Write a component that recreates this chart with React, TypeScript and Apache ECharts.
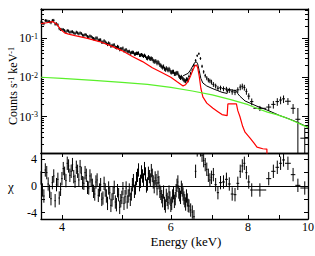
import React, { useEffect, useRef } from "react";
import * as echarts from "echarts";

// ---------- data ----------
const energy = [
  3.70, 3.74, 3.78, 3.82, 3.86, 3.90, 3.94, 3.98, 4.02, 4.06, 4.10, 4.14, 4.18, 4.22, 4.26, 4.30, 4.34, 4.38, 4.42, 4.46,
  4.50, 4.54, 4.58, 4.62, 4.66, 4.70, 4.74, 4.78, 4.82, 4.86, 4.90, 4.94, 4.98, 5.02, 5.06, 5.10, 5.14, 5.18, 5.22, 5.26,
  5.30, 5.34, 5.38, 5.42, 5.46, 5.50, 5.54, 5.58, 5.62, 5.66, 5.70, 5.74, 5.78, 5.82, 5.86, 5.90, 5.94, 5.98, 6.02, 6.06,
  6.10, 6.14, 6.18, 6.22, 6.26, 6.30, 6.34, 6.38,
  6.42, 6.46, 6.50, 6.54, 6.58, 6.62, 6.66, 6.70, 6.74, 6.78, 6.82, 6.86, 6.90, 6.94, 6.98,
  7.03, 7.09, 7.15, 7.22, 7.30, 7.38, 7.46, 7.54, 7.62, 7.70, 7.77, 7.83, 7.89, 7.95, 8.02, 8.11, 8.36, 8.64, 8.79, 8.92,
  9.03, 9.13, 9.28, 9.46, 9.63, 9.88,
];
const halfWidth = [
  0.01, 0.01, 0.01, 0.01, 0.01, 0.01, 0.01, 0.01, 0.01, 0.01, 0.01, 0.01, 0.01, 0.01, 0.01, 0.01, 0.01, 0.01, 0.01, 0.01,
  0.01, 0.01, 0.01, 0.01, 0.01, 0.01, 0.01, 0.01, 0.01, 0.01, 0.01, 0.01, 0.01, 0.01, 0.01, 0.01, 0.01, 0.01, 0.01, 0.01,
  0.01, 0.01, 0.01, 0.01, 0.01, 0.01, 0.01, 0.01, 0.01, 0.01, 0.01, 0.01, 0.01, 0.01, 0.01, 0.01, 0.01, 0.01, 0.01, 0.01,
  0.01, 0.01, 0.01, 0.01, 0.01, 0.01, 0.01, 0.01,
  0.02, 0.02, 0.02, 0.02, 0.02, 0.02, 0.02, 0.02, 0.02, 0.02, 0.02, 0.02, 0.02, 0.02, 0.02,
  0.03, 0.03, 0.03, 0.04, 0.04, 0.04, 0.04, 0.04, 0.04, 0.04, 0.03, 0.03, 0.03, 0.03, 0.04, 0.05, 0.20, 0.08, 0.07, 0.06,
  0.05, 0.05, 0.10, 0.08, 0.09, 0.16,
];
// counts s^-1 keV^-1
const counts = [
  0.255, 0.232, 0.275, 0.262, 0.281, 0.228, 0.217, 0.166, 0.164, 0.143, 0.151, 0.144, 0.136, 0.141, 0.128, 0.130, 0.117, 0.119, 0.106, 0.109,
  0.0966, 0.100, 0.0878, 0.0898, 0.0786, 0.0791, 0.0691, 0.0709, 0.0645, 0.0670, 0.0570, 0.0583, 0.0535, 0.0553, 0.0490, 0.0458, 0.0458, 0.0428, 0.0430, 0.0394,
  0.0407, 0.0366, 0.0378, 0.0345, 0.0342, 0.0306, 0.0307, 0.0303, 0.0265, 0.0260, 0.0229, 0.0230, 0.0200, 0.0178, 0.0166, 0.0171, 0.0152, 0.0151, 0.0134, 0.0139,
  0.0123, 0.0130, 0.0111, 0.0097, 0.0096, 0.0085, 0.0080, 0.0088,
  0.0105, 0.0126, 0.0151, 0.0200, 0.0269, 0.0355, 0.0398, 0.0302, 0.0191, 0.0138, 0.0110, 0.00955, 0.00851, 0.00813, 0.00759,
  0.00661, 0.00603, 0.00525, 0.00537, 0.00513, 0.00501, 0.00468, 0.00427, 0.00417, 0.00479, 0.00562, 0.00589, 0.00550, 0.00437, 0.00331, 0.00240, 0.00162, 0.00174, 0.00204, 0.00240,
  0.00263, 0.00282, 0.00245, 0.00162, 0.00085, 0.00028,
];
// relative 1-sigma error of each count rate
const relErr = [
  0.09, 0.09, 0.09, 0.09, 0.09, 0.09, 0.09, 0.09, 0.09, 0.09, 0.09, 0.09, 0.09, 0.09, 0.09, 0.09, 0.09, 0.09, 0.09, 0.09,
  0.10, 0.10, 0.10, 0.10, 0.10, 0.10, 0.10, 0.10, 0.10, 0.10, 0.10, 0.10, 0.10, 0.10, 0.10, 0.10, 0.10, 0.10, 0.10, 0.10,
  0.10, 0.10, 0.10, 0.10, 0.10, 0.12, 0.12, 0.12, 0.12, 0.12, 0.12, 0.12, 0.12, 0.12, 0.12, 0.12, 0.12, 0.12, 0.12, 0.12,
  0.12, 0.12, 0.12, 0.12, 0.12, 0.12, 0.12, 0.12,
  0.11, 0.10, 0.10, 0.09, 0.08, 0.07, 0.07, 0.08, 0.09, 0.10, 0.11, 0.12, 0.13, 0.13, 0.14,
  0.14, 0.14, 0.15, 0.14, 0.14, 0.14, 0.15, 0.16, 0.16, 0.16, 0.17, 0.17, 0.17, 0.18, 0.18, 0.20, 0.15, 0.20, 0.22, 0.22,
  0.22, 0.22, 0.20, 0.28, 0.94, 0.86,
];
// residuals (data - model) / error
const chi = [
  1.2, -1.5, 2.0, -0.8, 0.5, -2.2, 1.0, -0.5, 2.6, 0.8, 3.0, 2.2, 1.4, 2.8, 0.9, 1.9, 0.4, 1.6, -0.3, 0.9,
  -0.8, 0.6, -1.4, 0.2, -1.8, -0.6, -2.6, -1.0, -2.1, -0.2, -2.8, -1.3, -2.2, -0.4, -1.6, -2.4, -0.6, -1.2, 0.8, -0.3,
  1.6, 0.2, 2.1, 0.9, 1.8, 0.3, 1.4, 2.3, 0.6, 1.2, -0.4, 0.5, -1.1, -2.2, -2.6, -1.4, -2.5, -1.8, -2.6, -1.0,
  -1.9, 0.1, -0.9, -1.7, -0.6, -1.8, -2.7, -2.1,
  -3.0, -3.6, -3.9, -4.6, 2.2, 5.4, 6.2, 5.4, 4.6, 3.8, 3.2, 2.5, 1.6, 0.9, 1.3,
  1.7, 0.2, -1.0, 0.5, 0.6, 1.0, 0.3, -1.2, -1.3, 0.4, 2.2, 3.0, 3.4, 2.0, 0.6, -0.6, -0.6, 1.1, 2.2, 2.8,
  3.4, 3.9, 3.4, 1.7, 0.1, -0.3,
];

// interleaved fine bins of the low-energy band (each 0.02 keV wide)
const fineEnergy = [
  3.72, 3.76, 3.80, 3.84, 3.88, 3.92, 3.96, 4.00, 4.04, 4.08, 4.12, 4.16, 4.20, 4.24, 4.28, 4.32, 4.36, 4.40, 4.44, 4.48,
  4.52, 4.56, 4.60, 4.64, 4.68, 4.72, 4.76, 4.80, 4.84, 4.88, 4.92, 4.96, 5.00, 5.04, 5.08, 5.12, 5.16, 5.20, 5.24, 5.28,
  5.32, 5.36, 5.40, 5.44, 5.48, 5.52, 5.56, 5.60, 5.64, 5.68, 5.72, 5.76, 5.80, 5.84, 5.88, 5.92, 5.96, 6.00, 6.04, 6.08,
  6.12, 6.16, 6.20, 6.24, 6.28, 6.32, 6.36, 6.40,
];
const fineHalfWidth = 0.01;
const fineCounts = [
  0.241, 0.280, 0.266, 0.247, 0.282, 0.231, 0.174, 0.166, 0.155, 0.155, 0.140, 0.145, 0.130, 0.135, 0.135, 0.119, 0.123, 0.109, 0.113, 0.102,
  0.0932, 0.0996, 0.0886, 0.0788, 0.0848, 0.0737, 0.0748, 0.0624, 0.0655, 0.0585, 0.0610, 0.0510, 0.0528, 0.0475, 0.0506, 0.0449, 0.0413, 0.0435, 0.0391, 0.0410,
  0.0415, 0.0367, 0.0363, 0.0364, 0.0309, 0.0329, 0.0297, 0.0292, 0.0250, 0.0252, 0.0247, 0.0208, 0.0189, 0.0189, 0.0157, 0.0160, 0.0165, 0.0136, 0.0139, 0.0123,
  0.0127, 0.0127, 0.0103, 0.0103, 0.00907, 0.00829, 0.00889, 0.00843,
];
const fineRelErr = [
  0.09, 0.09, 0.09, 0.09, 0.09, 0.09, 0.09, 0.09, 0.09, 0.09, 0.09, 0.09, 0.09, 0.09, 0.09, 0.09, 0.09, 0.09, 0.09, 0.09,
  0.10, 0.10, 0.10, 0.10, 0.10, 0.10, 0.10, 0.10, 0.10, 0.10, 0.10, 0.10, 0.10, 0.10, 0.10, 0.10, 0.10, 0.10, 0.10, 0.10,
  0.10, 0.10, 0.10, 0.10, 0.10, 0.12, 0.12, 0.12, 0.12, 0.12, 0.12, 0.12, 0.12, 0.12, 0.12, 0.12, 0.12, 0.12, 0.12, 0.12,
  0.12, 0.12, 0.12, 0.12, 0.12, 0.12, 0.12, 0.12,
];
const fineChi = [
  -0.6, 2.4, 0.3, -1.9, 1.5, 0.2, -1.8, 1.1, 1.9, 3.4, 1.6, 3.2, 0.7, 2.2, 2.9, 0.5, 2.0, -0.2, 1.5, 0.1,
  -1.2, 0.9, -0.6, -2.0, 0.4, -1.5, -0.3, -2.9, -1.1, -2.4, -0.7, -3.2, -1.7, -2.6, -0.3, -1.5, -2.0, 0.2, -0.8, 1.1,
  2.4, 0.7, 1.5, 2.6, 0.0, 1.9, 0.9, 1.6, -0.1, 0.8, 1.3, -0.8, -1.6, -0.9, -3.0, -2.0, -0.9, -2.9, -1.5, -2.3,
  -0.7, 0.6, -1.3, -0.2, -1.2, -2.2, -1.5, -2.9,
];

// model components
const redEnergy = [
  3.70, 3.78, 3.86, 3.92, 3.98, 4.04, 4.10, 4.20, 4.40, 4.60, 4.80, 5.00, 5.20, 5.40, 5.60, 5.80, 6.00, 6.15, 6.28, 6.34,
  6.40, 6.46, 6.52, 6.56, 6.60, 6.63, 6.67, 6.71, 6.76, 6.86, 7.02, 7.14, 7.26, 7.40, 7.42, 7.66, 7.70, 7.76, 7.84, 7.91,
  8.06, 8.18, 8.27, 8.45, 8.58, 8.60,
];
const redFlux = [
  0.234, 0.245, 0.263, 0.229, 0.166, 0.135, 0.126, 0.115, 0.0977, 0.0813, 0.0631, 0.0479, 0.0339, 0.0251, 0.0174, 0.0132, 0.0100, 0.00759, 0.00603, 0.00646,
  0.00794, 0.0110, 0.0158, 0.0195, 0.0204, 0.0178, 0.0105, 0.00525, 0.00316, 0.00219, 0.00162, 0.00135, 0.00112, 0.00105, 0.00209, 0.00209, 0.00141, 0.00100, 0.000562, 0.000398,
  0.000282, 0.000209, 0.000166, 0.000151, 0.000148, 0.0000251,
];
const greenEnergy = [3.70, 4.00, 4.50, 5.00, 5.50, 6.00, 6.50, 7.00, 7.50, 8.00, 8.15, 8.30, 8.60, 8.90, 9.20, 9.50, 9.80, 10.00];
const greenFlux = [0.0100, 0.00933, 0.00832, 0.00741, 0.00661, 0.00550, 0.00447, 0.00355, 0.00269, 0.00200, 0.00178, 0.00158, 0.00129, 0.00112, 0.000933, 0.000759, 0.000603, 0.000525];
const totalEnergy = [6.28, 6.40, 6.46, 6.52, 6.56, 6.60, 6.63, 6.67, 6.71, 6.76, 6.86, 7.02, 7.14, 7.26, 7.40, 7.42, 7.66, 7.70, 7.76, 7.91, 8.06, 8.27, 8.58, 9.00, 9.30, 9.60, 10.00];
const totalFlux = [0.0109, 0.0126, 0.0155, 0.0203, 0.0239, 0.0247, 0.0221, 0.0146, 0.00932, 0.00714, 0.00599, 0.00509, 0.00459, 0.00414, 0.00387, 0.00491, 0.00454, 0.00381, 0.00329, 0.00249, 0.00219, 0.00183, 0.00147, 0.00106, 0.00088, 0.00072, 0.00053];

// axes
const energyRange = [3.7, 10];
const energyTicks = [4, 5, 6, 7, 8, 9, 10];
const energyLabels = [4, 6, 8, 10];
const countDecadeExps = [-3, -2, -1];
const countLogRange = [-3.93, -0.26];
const chiRange = [-4.94, 4.94];
const chiTicks = [-4, -2, 0, 2, 4];
const chiLabels = [-4, 0, 4];

// ---------- helpers ----------
const L = (v: number) => Math.log10(v);
const FONT = '"Liberation Serif", "DejaVu Serif", serif';
const BLACK = "#000";
const RED = "#ff0000";
const GREEN = "#5af02a";

const minorCountTicks: number[] = [];
for (let n = -5; n <= 0; n++) {
  for (let k = 2; k <= 9; k++) {
    const v = n + L(k);
    if (v > countLogRange[0] && v < countLogRange[1]) minorCountTicks.push(v);
  }
}

function crossItem(params: any, api: any) {
  const cs = params.coordSys;
  const x0 = cs.x, x1 = cs.x + cs.width, y0 = cs.y, y1 = cs.y + cs.height;
  const cx = (v: number) => Math.min(x1, Math.max(x0, v));
  const cy = (v: number) => Math.min(y1, Math.max(y0, v));
  const c = api.coord([api.value(0), api.value(3)]);
  const left = api.coord([api.value(1), api.value(3)])[0];
  const right = api.coord([api.value(2), api.value(3)])[0];
  const lo = api.coord([api.value(0), api.value(4)])[1];
  const hi = api.coord([api.value(0), api.value(5)])[1];
  const style = { stroke: BLACK, lineWidth: 1 };
  const children: any[] = [];
  if (c[1] >= y0 && c[1] <= y1) {
    children.push({ type: "line", shape: { x1: cx(left), y1: c[1], x2: cx(right), y2: c[1] }, style });
  }
  const a = cy(hi), b = cy(lo);
  if (b - a > 0.1 && c[0] >= x0 && c[0] <= x1) {
    children.push({ type: "line", shape: { x1: c[0], y1: a, x2: c[0], y2: b }, style });
  }
  return { type: "group", children };
}

export default function App() {
  const ref = useRef<HTMLDivElement>(null);

  useEffect(() => {
    if (!ref.current) return;
    const chart = echarts.init(ref.current, undefined, { renderer: "svg" });

    const countRow = (e: number, hw: number, c: number, r: number) => {
      const err = c * r;
      const lo = c - err;
      return [L(e), L(e - hw), L(e + hw), L(c), lo > 0 ? L(lo) : -20, L(c + err)];
    };
    const chiRow = (e: number, hw: number, x: number) => [L(e), L(e - hw), L(e + hw), x, x - 1, x + 1];

    const dataRows = [
      ...energy.map((e, i) => countRow(e, halfWidth[i], counts[i], relErr[i])),
      ...fineEnergy.map((e, i) => countRow(e, fineHalfWidth, fineCounts[i], fineRelErr[i])),
    ];
    const chiRows = [
      ...energy.map((e, i) => chiRow(e, halfWidth[i], chi[i])),
      ...fineEnergy.map((e, i) => chiRow(e, fineHalfWidth, fineChi[i])),
    ];

    const xMin = L(energyRange[0]);
    const xMax = L(energyRange[1]);
    const xTickPos = energyTicks.map(L);
    const xLabelPos = energyLabels.map(L);

    const frame = { show: true, onZero: false, lineStyle: { color: BLACK, width: 1.3 } };
    const tickStyle = { color: BLACK, width: 1 };
    const noLabel = { show: false };
    const noSplit = { show: false };

    const xAxisBase = { type: "value", min: xMin, max: xMax, splitLine: noSplit, axisLine: frame };
    const yTopBase = { type: "value", min: countLogRange[0], max: countLogRange[1], splitLine: noSplit, gridIndex: 0 };
    const yChiBase = { type: "value", min: chiRange[0], max: chiRange[1], splitLine: noSplit, gridIndex: 1 };

    const option: any = {
      animation: false,
      backgroundColor: "#fff",
      grid: [
        { left: 41, top: 9, width: 267, height: 144, containLabel: false, outerBoundsMode: "none" },
        { left: 41, top: 153, width: 267, height: 66, containLabel: false, outerBoundsMode: "none" },
      ],
      xAxis: [
        { ...xAxisBase, gridIndex: 0, position: "bottom", axisTick: { show: false }, axisLabel: noLabel },
        { ...xAxisBase, gridIndex: 0, position: "top", axisTick: { show: true, inside: true, length: 4, customValues: xTickPos, lineStyle: tickStyle }, axisLabel: noLabel },
        {
          ...xAxisBase, gridIndex: 1, position: "bottom",
          axisTick: { show: true, inside: true, length: 4, customValues: xTickPos, lineStyle: tickStyle },
          axisLabel: {
            show: true, customValues: xLabelPos, margin: 2, color: BLACK, fontSize: 12, fontFamily: FONT,
            formatter: (v: number) => String(Math.round(Math.pow(10, v))),
          },
        },
        { ...xAxisBase, gridIndex: 1, position: "top", axisTick: { show: true, inside: true, length: 4, customValues: xTickPos, lineStyle: tickStyle }, axisLabel: noLabel },
      ],
      yAxis: [
        {
          ...yTopBase, position: "left", axisLine: frame,
          axisTick: { show: true, inside: true, length: 6, customValues: countDecadeExps, lineStyle: tickStyle },
          axisLabel: {
            show: true, customValues: countDecadeExps, margin: 3, color: BLACK,
            formatter: (v: number) => `{b|10}{s|${Math.round(v)}}`,
            rich: {
              b: { fontSize: 12, fontFamily: FONT, color: BLACK },
              s: { fontSize: 8, fontFamily: FONT, color: BLACK, verticalAlign: "top" },
            },
          },
        },
        { ...yTopBase, position: "left", axisLine: { show: false }, axisTick: { show: true, inside: true, length: 3, customValues: minorCountTicks, lineStyle: tickStyle }, axisLabel: noLabel },
        { ...yTopBase, position: "right", axisLine: frame, axisTick: { show: true, inside: true, length: 6, customValues: countDecadeExps, lineStyle: tickStyle }, axisLabel: noLabel },
        { ...yTopBase, position: "right", axisLine: { show: false }, axisTick: { show: true, inside: true, length: 3, customValues: minorCountTicks, lineStyle: tickStyle }, axisLabel: noLabel },
        {
          ...yChiBase, position: "left", axisLine: frame,
          axisTick: { show: true, inside: true, length: 4, customValues: chiTicks, lineStyle: tickStyle },
          axisLabel: { show: true, customValues: chiLabels, margin: 4, color: BLACK, fontSize: 12, fontFamily: FONT, formatter: (v: number) => String(Math.round(v)) },
        },
        { ...yChiBase, position: "right", axisLine: frame, axisTick: { show: true, inside: true, length: 4, customValues: chiTicks, lineStyle: tickStyle }, axisLabel: noLabel },
      ],
      series: [
        {
          type: "custom", name: "data", xAxisIndex: 0, yAxisIndex: 0,
          renderItem: crossItem, data: dataRows, encode: { x: [0, 1, 2], y: [3, 4, 5] }, silent: true, z: 2,
        },
        {
          type: "line", name: "model", xAxisIndex: 0, yAxisIndex: 0, showSymbol: false, symbol: "none", silent: true, z: 3,
          data: totalEnergy.map((e, i) => [L(e), L(totalFlux[i])]), lineStyle: { color: BLACK, width: 1 },
        },
        {
          type: "line", name: "red", xAxisIndex: 0, yAxisIndex: 0, showSymbol: false, symbol: "none", silent: true, z: 4,
          data: redEnergy.map((e, i) => [L(e), L(redFlux[i])]), lineStyle: { color: RED, width: 1.2 },
        },
        {
          type: "line", name: "green", xAxisIndex: 0, yAxisIndex: 0, showSymbol: false, symbol: "none", silent: true, z: 4,
          data: greenEnergy.map((e, i) => [L(e), L(greenFlux[i])]), lineStyle: { color: GREEN, width: 1.2 },
        },
        {
          type: "custom", name: "chi", xAxisIndex: 2, yAxisIndex: 4,
          renderItem: crossItem, data: chiRows, encode: { x: [0, 1, 2], y: [3, 4, 5] }, silent: true, z: 2,
          markLine: {
            silent: true, symbol: "none", label: { show: false },
            lineStyle: { color: BLACK, width: 1.2, type: "solid" },
            data: [{ yAxis: 0 }],
          },
        },
      ],
      graphic: [
        {
          type: "text", x: 13, y: 86, rotation: Math.PI / 2,
          style: {
            text: "{a|Counts s}{s|-1}{a| keV}{s|-1}",
            align: "center", verticalAlign: "middle", fill: BLACK,
            rich: {
              a: { fontSize: 12, fontFamily: FONT, fill: BLACK },
              s: { fontSize: 8, fontFamily: FONT, fill: BLACK, verticalAlign: "top" },
            },
          },
        },
        { type: "text", x: 11, y: 186, style: { text: "χ", font: `13px ${FONT}`, align: "center", verticalAlign: "middle", fill: BLACK } },
        { type: "text", x: 186, y: 241, style: { text: "Energy (keV)", font: `13px ${FONT}`, align: "center", verticalAlign: "middle", fill: BLACK } },
      ],
    };

    chart.setOption(option);
    return () => chart.dispose();
  }, []);

  return <div ref={ref} style={{ position: "fixed", left: 0, top: 0, width: 315, height: 256 }} />;
}
